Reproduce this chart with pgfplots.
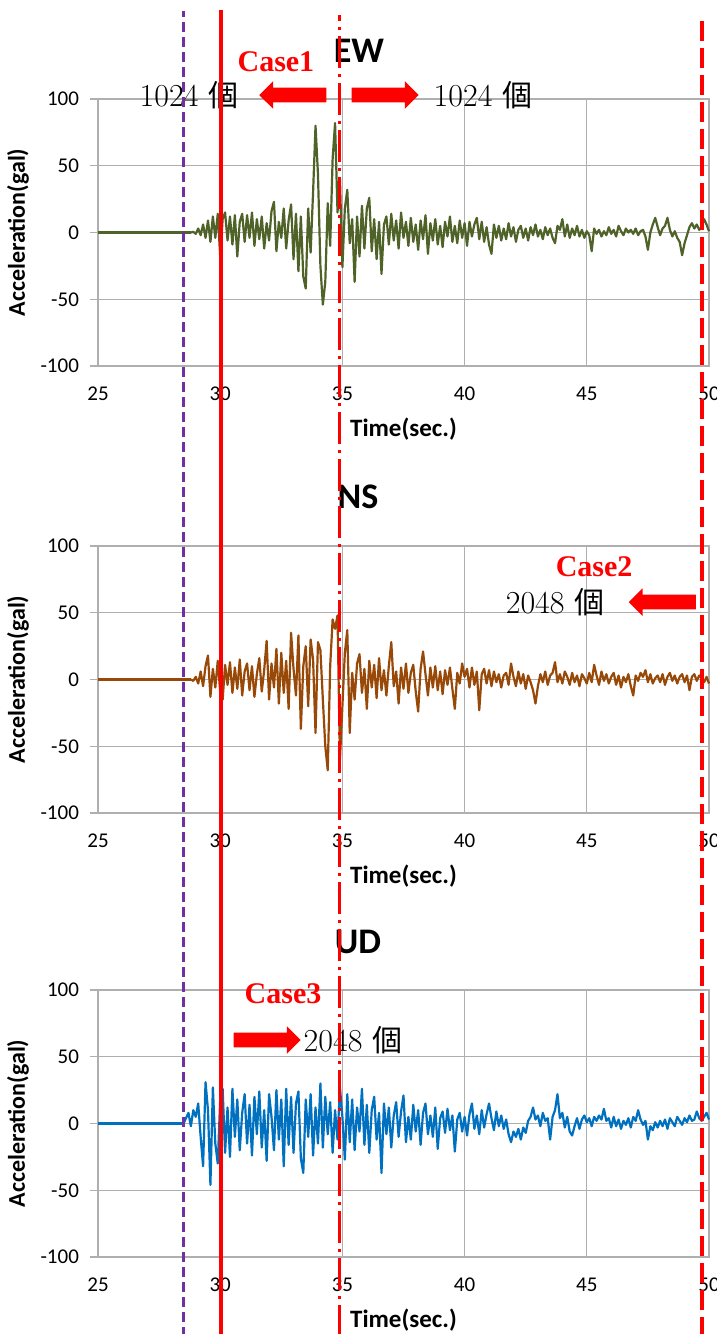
\documentclass[border=0pt]{standalone}
\usepackage{pgfplots}
\pgfplotsset{compat=1.18}
\usepackage{pgfplotstable}
\usepackage{fontspec}
\usetikzlibrary{shapes.arrows}
\newfontfamily\carlito{Carlito}
\newfontfamily\cjk{Noto Sans CJK JP}
\newfontfamily\serifb{Liberation Serif}

\definecolor{ewgreen}{RGB}{79,98,40}
\definecolor{nsbrown}{RGB}{152,72,7}
\definecolor{udblue}{RGB}{0,112,192}
\definecolor{lpurple}{RGB}{112,48,160}
\definecolor{gridgray}{RGB}{175,175,175}

% EW: 28.8 ... 50.0 s, 0.1 s step
\pgfplotstableread[row sep=\\]{
y\\
0\\ 0.5\\ -1\\ 3\\ -2\\ 6\\ -4\\ 9\\ -7\\ 12\\
-4\\ 14\\ -18\\ 10\\ 15\\ -6\\ 12\\ -9\\ 13\\ -18\\
8\\ 14\\ -7\\ 13\\ -4\\ 15\\ -10\\ 10\\ -5\\ 12\\
-12\\ 7\\ -6\\ 16\\ 23\\ -14\\ 8\\ -4\\ 18\\ -12\\
9\\ 21\\ -20\\ 14\\ -29\\ 12\\ -33\\ -42\\ 18\\ -15\\
30\\ 80\\ 44\\ -25\\ -54\\ -37\\ 22\\ -10\\ 55\\ 82\\
15\\ 40\\ -26\\ 18\\ 32\\ -8\\ 10\\ -37\\ 12\\ -18\\
20\\ -12\\ 18\\ 26\\ -14\\ 10\\ -20\\ 8\\ -31\\ 6\\
12\\ -9\\ 14\\ -6\\ 9\\ -12\\ 15\\ -4\\ 8\\ -10\\
11\\ -7\\ 6\\ -13\\ 9\\ -5\\ 13\\ -16\\ 7\\ -6\\
10\\ -9\\ 5\\ -11\\ 8\\ -3\\ 12\\ -7\\ 5\\ -8\\
9\\ -4\\ 7\\ -10\\ 8\\ -3\\ 6\\ 11\\ -5\\ 8\\
-7\\ 4\\ -9\\ -16\\ 6\\ -4\\ 5\\ -6\\ 3\\ -5\\
7\\ -3\\ 4\\ -7\\ 2\\ 5\\ -4\\ 3\\ -6\\ 4\\
-2\\ 6\\ -3\\ 2\\ -5\\ 4\\ -2\\ 3\\ -4\\ -8\\
5\\ 2\\ 10\\ -3\\ 6\\ -4\\ 3\\ -2\\ 5\\ -3\\
2\\ -4\\ 1\\ -2\\ -14\\ 3\\ -1\\ 2\\ -3\\ 1\\
-2\\ 4\\ -1\\ 2\\ -3\\ 5\\ 1\\ -2\\ 3\\ 0\\
2\\ -1\\ 3\\ -2\\ 1\\ 2\\ -3\\ -13\\ 0\\ 6\\
11\\ 4\\ -2\\ 3\\ 5\\ 11\\ 2\\ -3\\ 1\\ -4\\
-7\\ -17\\ -8\\ -2\\ 4\\ 7\\ 3\\ 6\\ 2\\ 4\\
10\\ 6\\ 1\\
}\ewdata

% NS: 28.8 ... 50.0 s, 0.1 s step
\pgfplotstableread[row sep=\\]{
y\\
0\\ -1\\ 2\\ -3\\ 6\\ -5\\ 10\\ 18\\ -13\\ 8\\
-6\\ 14\\ -9\\ -15\\ 11\\ -4\\ 13\\ -10\\ 9\\ -7\\
15\\ -12\\ 6\\ 12\\ -8\\ 10\\ -13\\ 4\\ 16\\ -9\\
7\\ 29\\ -15\\ 12\\ -6\\ 23\\ -18\\ 20\\ -10\\ 14\\
-22\\ 35\\ 8\\ -12\\ 33\\ -37\\ 10\\ 25\\ -20\\ 30\\
15\\ -40\\ 28\\ 22\\ -15\\ -50\\ -68\\ 10\\ 45\\ 38\\
48\\ -60\\ -20\\ 20\\ 37\\ -40\\ 5\\ -15\\ 12\\ 19\\
-10\\ 8\\ -22\\ 14\\ -6\\ 11\\ -14\\ 16\\ -8\\ 7\\
-12\\ 10\\ 28\\ -5\\ 6\\ -18\\ 9\\ -7\\ 12\\ -10\\
5\\ 11\\ -9\\ -24\\ 8\\ 21\\ 4\\ -12\\ 9\\ -6\\
10\\ -8\\ 6\\ -11\\ 7\\ -4\\ 9\\ -7\\ -22\\ 5\\
-3\\ 12\\ 2\\ 8\\ -6\\ 9\\ -4\\ 6\\ -23\\ 4\\
8\\ -3\\ 7\\ -5\\ 6\\ -2\\ 4\\ -6\\ 3\\ 5\\
-4\\ 12\\ 2\\ -5\\ 6\\ -3\\ 4\\ -7\\ 3\\ -2\\
-8\\ -18\\ -5\\ 4\\ -2\\ 6\\ -4\\ 3\\ 5\\ 13\\
-2\\ 4\\ -3\\ 6\\ 2\\ -4\\ 5\\ -2\\ 3\\ -5\\
4\\ 1\\ -3\\ 5\\ -2\\ 11\\ 3\\ -4\\ 6\\ -1\\
4\\ -3\\ 2\\ 5\\ -4\\ 3\\ -6\\ 2\\ -2\\ 4\\
-5\\ -12\\ 3\\ -1\\ 5\\ 2\\ 7\\ -2\\ 4\\ -3\\
1\\ 3\\ -2\\ 4\\ -4\\ 2\\ 5\\ -1\\ 3\\ -3\\
2\\ 4\\ -2\\ 3\\ -8\\ 2\\ 4\\ -1\\ 3\\ 1\\
-2\\ 2\\ -3\\
}\nsdata

% UD: 28.5 ... 50.0 s, 0.1 s step
\pgfplotstableread[row sep=\\]{
y\\
0\\ 4\\ 8\\ -2\\ 10\\ 5\\ 15\\ -10\\ -32\\ 31\\
10\\ -46\\ 27\\ -15\\ -30\\ 18\\ 26\\ -22\\ 12\\ -25\\
26\\ -10\\ 18\\ -20\\ 8\\ 22\\ -15\\ 14\\ -24\\ 20\\
-8\\ 24\\ -18\\ 10\\ -28\\ 22\\ 5\\ -20\\ 25\\ -12\\
18\\ -32\\ 26\\ -16\\ 20\\ -22\\ 15\\ 24\\ -26\\ -37\\
18\\ -10\\ 22\\ -24\\ 12\\ -15\\ 30\\ -18\\ 20\\ -8\\
16\\ -22\\ 10\\ -12\\ 27\\ 5\\ -27\\ 22\\ -14\\ 18\\
-20\\ 12\\ -6\\ 26\\ -16\\ 14\\ -22\\ 10\\ 20\\ -12\\
8\\ -37\\ 15\\ -8\\ 12\\ -18\\ 6\\ 16\\ -10\\ 9\\
21\\ -14\\ 5\\ -12\\ 14\\ -6\\ 10\\ -16\\ 8\\ 15\\
-8\\ 6\\ -10\\ 12\\ -19\\ 4\\ 9\\ -7\\ 11\\ -5\\
6\\ -21\\ 3\\ 8\\ -6\\ 5\\ -9\\ 7\\ 15\\ -4\\
6\\ -8\\ 10\\ -3\\ 7\\ 15\\ 4\\ -5\\ 9\\ -2\\
6\\ -4\\ 3\\ -8\\ -14\\ -6\\ -10\\ -4\\ -12\\ -3\\
-7\\ 2\\ 5\\ 12\\ 3\\ 6\\ -2\\ 8\\ 2\\ 4\\
-12\\ 5\\ 10\\ 22\\ 4\\ 8\\ -3\\ 5\\ -6\\ -9\\
-2\\ 4\\ -4\\ 3\\ 6\\ 1\\ 4\\ -2\\ 5\\ 2\\
6\\ 3\\ 11\\ 2\\ 4\\ -3\\ 5\\ -2\\ 3\\ -4\\
2\\ -1\\ 4\\ -3\\ 5\\ 2\\ 10\\ 3\\ -1\\ 2\\
-12\\ -2\\ -5\\ 1\\ -3\\ 2\\ -2\\ 3\\ -4\\ 4\\
1\\ -2\\ 5\\ 2\\ -1\\ 4\\ 1\\ 6\\ 2\\ 3\\
9\\ 4\\ 2\\ 5\\ 8\\ 3\\
}\uddata

\pgfplotsset{
  wave/.style={
    width=305.5pt, height=133.5pt, scale only axis,
    anchor=south west, clip=false,
    xmin=25, xmax=50, ymin=-100, ymax=100,
    xtick={25,30,...,50}, ytick={-100,-50,...,100},
    grid=major, major grid style={draw=gridgray, line width=0.6pt},
    axis line style={draw=gridgray, line width=0.6pt},
    tick align=outside, major tick length=4pt,
    xtick style={draw=none}, ytick style={draw=gridgray, line width=0.6pt},
    xtick pos=bottom, ytick pos=left,
    /pgf/number format/assume math mode=true,
    ticklabel style={font=\carlito\fontsize{10.5}{12}\selectfont},
    xticklabel style={yshift=-3pt},
    yticklabel style={xshift=-2pt},
    ylabel={Acceleration(gal)},
    xlabel={Time(sec.)},
    every axis y label/.style={at={(axis description cs:-0.131,0.5)}, rotate=90, anchor=center,
      font=\carlito\bfseries\fontsize{12}{14}\selectfont},
    every axis x label/.style={at={(axis description cs:0.5,-0.236)}, anchor=center,
      font=\carlito\bfseries\fontsize{12.5}{14}\selectfont},
  },
}
\tikzset{
  ttl/.style={font=\carlito\bfseries\fontsize{18}{20}\selectfont},
  case/.style={text=red, font=\serifb\bfseries\fontsize{15}{17}\selectfont},
  cnt/.style={font=\fontsize{16}{18}\selectfont, inner sep=0pt},
  blk/.style={single arrow, fill=red, draw=none, minimum height=33.5pt, inner sep=3.5pt,
    single arrow head extend=3.2pt, single arrow head indent=0pt},
}

\begin{document}
\begin{tikzpicture}
\path[use as bounding box] (0pt,0pt) rectangle (358.5pt,-667pt);

% EW
\begin{axis}[wave, at={(49pt,-183pt)}]
\addplot[ewgreen, line width=1.1pt] coordinates {(25,0) (28.8,0)};
\addplot[ewgreen, line width=1.1pt, line join=round] table[x expr=28.8+0.1*\coordindex, y=y] {\ewdata};
\node[ttl] at (axis cs:35.68,136) {EW};
\node[case] at (axis cs:32.28,127.7) {Case1};
\node[cnt] at (axis cs:28.72,103) {1024 {\cjk\fontsize{15}{17}\selectfont 個}};
\node[blk, shape border rotate=180] at (axis cs:33.12,103) {};
\node[blk] at (axis cs:36.6,103) {};
\node[cnt] at (axis cs:40.75,103) {1024 {\cjk\fontsize{15}{17}\selectfont 個}};
\end{axis}

% NS
\begin{axis}[wave, at={(49pt,-406.5pt)}]
\addplot[nsbrown, line width=1.1pt] coordinates {(25,0) (28.8,0)};
\addplot[nsbrown, line width=1.1pt, line join=round] table[x expr=28.8+0.1*\coordindex, y=y] {\nsdata};
\node[ttl] at (axis cs:35.64,136.5) {NS};
\node[case] at (axis cs:45.3,84.3) {Case2};
\node[cnt] at (axis cs:43.7,58) {2048 {\cjk\fontsize{15}{17}\selectfont 個}};
\node[blk, shape border rotate=180] at (axis cs:48.24,58) {};
\end{axis}

% UD
\begin{axis}[wave, at={(49pt,-628.5pt)}]
\addplot[udblue, line width=1.1pt] coordinates {(25,0) (28.5,0)};
\addplot[udblue, line width=1.1pt, line join=round] table[x expr=28.5+0.1*\coordindex, y=y] {\uddata};
\node[ttl] at (axis cs:35.64,136) {UD};
\node[case] at (axis cs:32.57,97) {Case3};
\node[blk] at (axis cs:31.77,62.5) {};
\node[cnt] at (axis cs:35.43,62.5) {2048 {\cjk\fontsize{15}{17}\selectfont 個}};
% vertical marker lines across all three panels
\draw[lpurple, line width=1.5pt, dash pattern=on 5pt off 2.5pt] (axis cs:28.51,-160) -- (axis cs:28.51,833);
\draw[red, line width=2pt] (axis cs:30.05,-160) -- (axis cs:30.05,834);
\draw[red, line width=1.8pt, dash pattern=on 16pt off 3pt on 1.5pt off 3pt] (axis cs:34.88,-160) -- (axis cs:34.88,830);
\draw[red, line width=2pt, dash pattern=on 10pt off 3.5pt] (axis cs:49.7,-160) -- (axis cs:49.7,830);
\end{axis}
\end{tikzpicture}
\end{document}
